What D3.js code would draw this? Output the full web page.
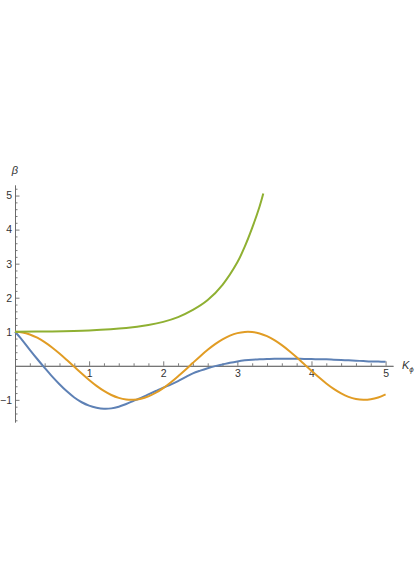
<!DOCTYPE html>
<head>
  <meta charset="utf-8">
  <script src="https://d3js.org/d3.v7.min.js"></script>
  <style>
    body { margin: 0; background: #fff; }
    text { font-family: "Liberation Sans", Arial, sans-serif; }
  </style>
</head>
<body>
  <script>
    // values
    var xsFine = [0, 0.1, 0.2, 0.3, 0.4, 0.5, 0.6, 0.7, 0.8, 0.9, 1.0, 1.1, 1.2, 1.3, 1.4, 1.5, 1.6, 1.7, 1.8, 1.9,
      2.0, 2.1, 2.2, 2.3, 2.4, 2.5, 2.6, 2.7, 2.8, 2.9, 3.0, 3.1, 3.2, 3.3, 3.4, 3.5, 3.6, 3.7, 3.8, 3.9,
      4.0, 4.1, 4.2, 4.3, 4.4, 4.5, 4.6, 4.7, 4.8, 4.9, 5.0];

    var orangeVals = [1, 0.98, 0.921, 0.825, 0.697, 0.54, 0.362, 0.17, -0.029, -0.227, -0.416, -0.589, -0.737, -0.857,
      -0.942, -0.99, -0.998, -0.967, -0.897, -0.791, -0.654, -0.49, -0.307, -0.115, 0.087, 0.284, 0.469, 0.635,
      0.776, 0.885, 0.96, 0.996, 0.993, 0.95, 0.87, 0.754, 0.608, 0.438, 0.252, 0.054, -0.146, -0.339, -0.519,
      -0.679, -0.811, -0.911, -0.975, -1.0, -0.984, -0.93, -0.839];

    var blueVals = [1, 0.75, 0.47, 0.2, -0.06, -0.31, -0.54, -0.75, -0.93, -1.07, -1.17, -1.23, -1.26, -1.25,
      -1.2, -1.12, -1.03, -0.94, -0.84, -0.74, -0.64, -0.55, -0.45, -0.33, -0.22, -0.14, -0.07, -0.01, 0.04,
      0.09, 0.13, 0.16, 0.18, 0.19, 0.2, 0.21, 0.21, 0.21, 0.21, 0.2, 0.2, 0.19, 0.19, 0.18, 0.17, 0.16, 0.15,
      0.14, 0.13, 0.125, 0.12];

    var greenX = [0, 0.5, 1.0, 1.5, 1.8, 2.0, 2.2, 2.4, 2.6, 2.8, 3.0, 3.1, 3.2, 3.3, 3.35];
    var greenVals = [1.0, 1.01, 1.04, 1.11, 1.2, 1.29, 1.43, 1.64, 1.93, 2.38, 3.04, 3.5, 4.05, 4.68, 5.06];

    var xTickLabels = [1, 2, 3, 4, 5];
    var yTickLabels = [-1, 1, 2, 3, 4, 5];

    var width = 415, height = 588;

    var svg = d3.select("body").append("svg")
      .attr("width", width)
      .attr("height", height);

    var x = d3.scaleLinear().domain([0, 5.1]).range([15, 393]);
    var y = d3.scaleLinear().domain([-1.65, 5.31]).range([422, 185]);

    var axisColor = "#6b6b6b";

    // minor ticks
    var xMinor = d3.range(0.2, 5.01, 0.2).filter(function(v) { return Math.abs(v - Math.round(v)) > 0.01; });
    var yMinor = d3.range(-1.6, 5.21, 0.2).filter(function(v) { return Math.abs(v - Math.round(v)) > 0.01; });

    var xMinorG = svg.append("g")
      .attr("transform", "translate(0," + y(0) + ")")
      .call(d3.axisBottom(x).tickValues(xMinor).tickSizeInner(-2.5).tickSizeOuter(0).tickFormat(""));
    var yMinorG = svg.append("g")
      .attr("transform", "translate(" + x(0) + ",0)")
      .call(d3.axisLeft(y).tickValues(yMinor).tickSizeInner(-2.5).tickSizeOuter(0).tickFormat(""));

    var xAxisG = svg.append("g")
      .attr("transform", "translate(0," + y(0) + ")")
      .call(d3.axisBottom(x).tickValues(xTickLabels).tickSizeInner(-4.5).tickSizeOuter(0).tickPadding(4)
        .tickFormat(d3.format("d")));
    var yAxisG = svg.append("g")
      .attr("transform", "translate(" + x(0) + ",0)")
      .call(d3.axisLeft(y).tickValues(yTickLabels).tickSizeInner(-4.5).tickSizeOuter(0).tickPadding(3)
        .tickFormat(function(d) { return d < 0 ? "\u2212" + Math.abs(d) : d; }));

    svg.selectAll(".domain").attr("stroke", axisColor).attr("stroke-width", 0.9);
    svg.selectAll(".tick line").attr("stroke", axisColor).attr("stroke-width", 0.9);
    svg.selectAll(".tick text").attr("fill", "#333").attr("font-size", 10.5)
      .attr("font-family", "Liberation Sans, Arial, sans-serif");

    var line = d3.line()
      .x(function(d) { return x(d[0]); })
      .y(function(d) { return y(d[1]); })
      .curve(d3.curveCatmullRom.alpha(0.5));

    var series = [
      { color: "#5e81b5", pts: d3.zip(xsFine, blueVals) },
      { color: "#e19c24", pts: d3.zip(xsFine, orangeVals) },
      { color: "#8fb032", pts: d3.zip(greenX, greenVals) }
    ];

    svg.selectAll("path.curve")
      .data(series)
      .enter().append("path")
      .attr("class", "curve")
      .attr("d", function(d) { return line(d.pts); })
      .attr("fill", "none")
      .attr("stroke", function(d) { return d.color; })
      .attr("stroke-width", 2);

    // axis labels
    svg.append("text")
      .attr("x", x(0))
      .attr("y", 174)
      .attr("text-anchor", "middle")
      .attr("font-style", "italic")
      .attr("font-size", 11)
      .attr("fill", "#333")
      .text("\u03b2");

    var kLabel = svg.append("text")
      .attr("x", 402)
      .attr("y", y(0) + 3.5)
      .attr("font-size", 11)
      .attr("fill", "#333");
    kLabel.append("tspan").attr("font-style", "italic").text("K");
    kLabel.append("tspan").attr("font-style", "italic").attr("font-size", 8).attr("dy", 3).text("\u03d5");
  </script>
</body>
